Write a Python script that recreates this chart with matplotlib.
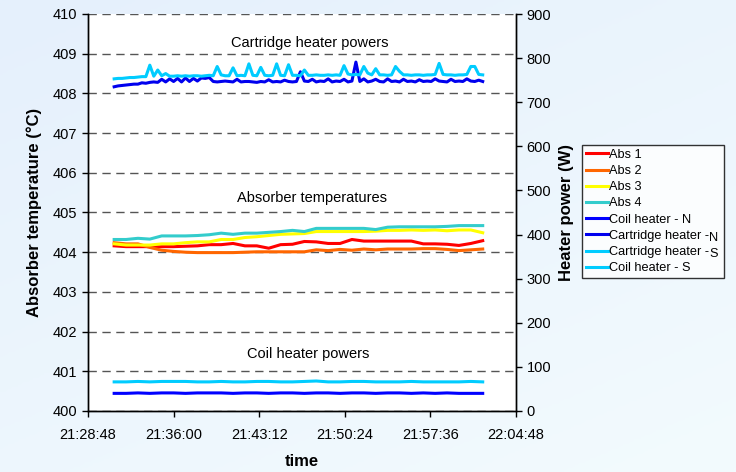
import numpy as np
import pandas as pd
import matplotlib
matplotlib.use("Agg")
import matplotlib.pyplot as plt
import matplotlib.dates as mdates
from matplotlib.colors import LinearSegmentedColormap

plt.rcParams['font.family'] = ['Liberation Sans', 'DejaVu Sans']

# sample times: temperatures / coil heaters every minute, cartridge heaters every 20 s
t_min = pd.date_range("2000-01-01 21:31:00", periods=32, freq="60s")
t_20s = pd.date_range("2000-01-01 21:31:00", periods=94, freq="20s")

# absorber temperatures (deg C)
abs1 = [404.16, 404.14, 404.14, 404.14, 404.14, 404.14, 404.15, 404.16, 404.19, 404.19,
        404.22, 404.16, 404.16, 404.10, 404.19, 404.20, 404.27, 404.26, 404.22, 404.22,
        404.32, 404.28, 404.28, 404.28, 404.28, 404.28, 404.21, 404.21, 404.20, 404.17,
        404.22, 404.29]
abs2 = [404.24, 404.21, 404.21, 404.12, 404.05, 404.02, 404.00, 403.99, 403.99, 403.99,
        403.99, 404.00, 404.01, 404.01, 404.01, 404.01, 404.01, 404.06, 404.04, 404.07,
        404.05, 404.08, 404.06, 404.08, 404.08, 404.08, 404.09, 404.09, 404.07, 404.04,
        404.06, 404.08]
abs3 = [404.21, 404.18, 404.18, 404.18, 404.21, 404.21, 404.24, 404.26, 404.26, 404.32,
        404.32, 404.37, 404.39, 404.42, 404.45, 404.46, 404.47, 404.52, 404.52, 404.52,
        404.52, 404.52, 404.53, 404.55, 404.55, 404.56, 404.55, 404.56, 404.54, 404.56,
        404.56, 404.49]
abs4 = [404.32, 404.32, 404.35, 404.33, 404.41, 404.41, 404.41, 404.42, 404.44, 404.48,
        404.45, 404.48, 404.48, 404.50, 404.52, 404.55, 404.52, 404.60, 404.60, 404.60,
        404.60, 404.60, 404.57, 404.63, 404.64, 404.64, 404.64, 404.64, 404.65, 404.67,
        404.67, 404.67]

# heater powers (W)
coil_n = [40, 40, 41, 40, 41, 41, 40, 41, 41, 41, 40, 41, 41, 40, 41, 41,
          40, 41, 41, 40, 41, 41, 40, 41, 41, 40, 41, 40, 41, 40, 40, 40]
coil_s = [66, 66, 67, 66, 67, 67, 67, 66, 66, 67, 66, 66, 67, 67, 66, 66,
          67, 68, 66, 66, 67, 67, 66, 66, 66, 67, 66, 66, 66, 66, 67, 66]
cart_n = [735, 737, 738, 739, 740, 741, 741, 744, 743, 745,
          746, 745, 752, 746, 753, 747, 754, 746, 755, 747,
          754, 748, 755, 754, 756, 747, 746, 747, 748, 747,
          746, 752, 746, 747, 747, 746, 745, 747, 746, 751,
          746, 747, 746, 750, 747, 746, 747, 769, 748, 747,
          752, 746, 748, 747, 753, 746, 748, 747, 752, 746,
          748, 791, 747, 753, 746, 748, 752, 747, 746, 753,
          747, 748, 746, 752, 747, 748, 746, 751, 747, 748,
          747, 753, 748, 747, 746, 752, 747, 748, 747, 753,
          748, 747, 750, 747]
cart_s = [753, 754, 754, 755, 756, 756, 757, 758, 758, 784,
          759, 773, 760, 765, 759, 759, 760, 759, 760, 759,
          760, 760, 759, 760, 761, 760, 781, 762, 760, 760,
          778, 760, 761, 760, 787, 761, 760, 779, 761, 760,
          761, 787, 761, 760, 785, 761, 761, 760, 773, 761,
          761, 762, 761, 761, 762, 761, 762, 761, 783, 764,
          762, 763, 762, 781, 766, 762, 776, 762, 762, 761,
          762, 781, 770, 762, 762, 761, 762, 762, 761, 762,
          762, 763, 788, 763, 762, 762, 761, 762, 762, 763,
          781, 781, 763, 762]

x_ticks = pd.date_range("2000-01-01 21:28:48", periods=6, freq="432s")

fig = plt.figure(figsize=(7.36, 4.72), dpi=100)

# light blue slide background
bg = fig.add_axes([0, 0, 1, 1], zorder=-10)
gx, gy = np.meshgrid(np.linspace(0, 1, 200), np.linspace(0, 1, 200))
cmap = LinearSegmentedColormap.from_list("bg", ["#E5F0FC", "#F3FBFE"])
bg.imshow(0.6 * gy + 0.4 * gx, cmap=cmap, aspect='auto', extent=[0, 1, 0, 1], origin='upper')
bg.axis('off')

ax = fig.add_axes([88 / 736, 1 - 411 / 472, 428 / 736, 397 / 472])
ax.set_facecolor('white')
ax2 = ax.twinx()

lw = 2.2
ax.plot(t_min, abs1, color='#FF0000', lw=lw, label='Abs 1')
ax.plot(t_min, abs2, color='#FF6600', lw=lw, label='Abs 2')
ax.plot(t_min, abs3, color='#FFFF00', lw=lw, label='Abs 3')
ax.plot(t_min, abs4, color='#33CCCC', lw=lw, label='Abs 4')
ax2.plot(t_min, coil_n, color='#0000FF', lw=lw, label='Coil heater - N')
ax2.plot(t_20s, cart_n, color='#0000EE', lw=lw, label='Cartridge heater -   ')
ax2.plot(t_20s, cart_s, color='#00CCFF', lw=lw, label='Cartridge heater -   ')
ax2.plot(t_min, coil_s, color='#00CCFF', lw=lw, label='Coil heater - S')

ax.set_ylim(400, 410)
ax.set_yticks(range(400, 411))
ax2.set_ylim(0, 900)
ax2.set_yticks(range(0, 901, 100))
ax.set_xlim(x_ticks[0], x_ticks[-1])
ax.set_xticks(x_ticks)
ax.xaxis.set_major_formatter(mdates.DateFormatter('%H:%M:%S'))

ax.yaxis.grid(True, color='#555555', linestyle=(0, (6, 4)), linewidth=1.0)
ax.set_axisbelow(True)
for a in (ax, ax2):
    a.spines['top'].set_visible(False)
    for s in ('left', 'right', 'bottom'):
        a.spines[s].set_color('black')
        a.spines[s].set_linewidth(1.0)
    a.tick_params(direction='out', length=4, width=1, labelsize=10.5, colors='black')
ax.tick_params(axis='x', pad=8)
ax2.patch.set_visible(False)

ax.set_ylabel('Absorber temperature (°C)', fontsize=12, fontweight='bold', labelpad=8)
ax2.set_ylabel('Heater power (W)', fontsize=12, fontweight='bold', labelpad=6)
ax.set_xlabel('time', fontsize=12, fontweight='bold', labelpad=9)

ax.text(0.519, 0.927, 'Cartridge heater powers', transform=ax.transAxes,
        ha='center', va='center', fontsize=10.5)
ax.text(0.523, 0.537, 'Absorber temperatures', transform=ax.transAxes,
        ha='center', va='center', fontsize=10.5)
ax.text(0.514, 0.144, 'Coil heater powers', transform=ax.transAxes,
        ha='center', va='center', fontsize=10.5)

h1, l1 = ax.get_legend_handles_labels()
h2, l2 = ax2.get_legend_handles_labels()
leg = fig.legend(h1 + h2, l1 + l2, loc='upper left', bbox_to_anchor=(582 / 736, 1 - 145 / 472),
                 fontsize=9.2, frameon=True, fancybox=False, edgecolor='black',
                 handlelength=1.75, handletextpad=0.1, labelspacing=0.33,
                 borderpad=0.3, borderaxespad=0)
leg.get_frame().set_linewidth(1.0)

# lowered "N" / "S" after the two cartridge heater labels
fig.canvas.draw()
inv = fig.transFigure.inverted()
frame_bb = leg.get_frame().get_window_extent()
for txt, suffix in zip(leg.get_texts()[5:7], ['N', 'S']):
    bb = txt.get_window_extent()
    x0, y0 = inv.transform((frame_bb.x1 - 15, bb.y0 - 2))
    fig.text(x0, y0, suffix, fontsize=9.2, ha='left', va='bottom', zorder=20)

plt.savefig("out.png", dpi=100)
plt.close(fig)
